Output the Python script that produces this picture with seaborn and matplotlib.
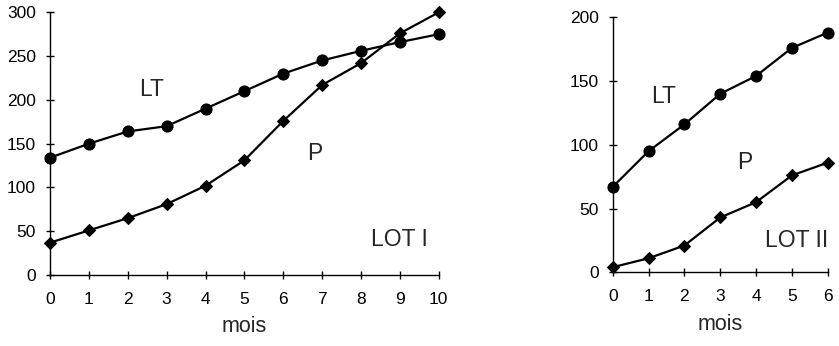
import numpy as np
import pandas as pd
import matplotlib
matplotlib.use("Agg")
import matplotlib.pyplot as plt
import seaborn as sns

# lot I
mois_1 = list(range(11))
lt_1 = [134, 150, 164, 170, 190, 210, 230, 245, 256, 266, 275]
p_1 = [37, 51, 65, 81, 102, 131, 176, 217, 242, 276, 300]

# lot II
mois_2 = list(range(7))
lt_2 = [67, 95, 116, 140, 154, 176, 188]
p_2 = [4, 11, 21, 43, 55, 76, 86]

sns.set_style("ticks")
plt.rcParams['font.family'] = ['Liberation Sans', 'DejaVu Sans']

fig = plt.figure(figsize=(8.39, 3.46), dpi=100)
ax1 = fig.add_axes([0.0596, 0.205, 0.4634, 0.7594])
ax2 = fig.add_axes([0.7303, 0.213, 0.2563, 0.737])

df1 = pd.DataFrame({'mois': mois_1, 'LT': lt_1, 'P': p_1})
df2 = pd.DataFrame({'mois': mois_2, 'LT': lt_2, 'P': p_2})

for ax, df in [(ax1, df1), (ax2, df2)]:
    sns.lineplot(data=df, x='mois', y='LT', ax=ax, color='black', lw=1.6,
                 marker='o', markersize=8, markeredgecolor='black', clip_on=False)
    sns.lineplot(data=df, x='mois', y='P', ax=ax, color='black', lw=1.6,
                 marker='D', markersize=6.5, markeredgecolor='black', clip_on=False)
    sns.despine(ax=ax)
    for s in ['left', 'bottom']:
        ax.spines[s].set_linewidth(1.0)
        ax.spines[s].set_color('black')
    ax.tick_params(direction='inout', length=6, width=1.0, colors='black',
                   labelsize=12.5)
    ax.tick_params(axis='y', pad=7)
    ax.tick_params(axis='x', pad=9)
    ax.set_xlabel('mois', fontsize=15.5, labelpad=7)
    ax.set_ylabel('')

ax1.set_xlim(0, 10)
ax1.set_ylim(0, 300)
ax1.set_xticks(mois_1)
ax1.set_yticks(range(0, 301, 50))
ax1.text(2.6, 212, 'LT', fontsize=16.5, ha='center', va='center')
ax1.text(6.8, 139, 'P', fontsize=16.5, ha='center', va='center')
ax1.text(9.0, 41, 'LOT I', fontsize=16.5, ha='center', va='center')

ax2.set_xlim(0, 6)
ax2.set_ylim(0, 200)
ax2.set_xticks(mois_2)
ax2.set_yticks(range(0, 201, 50))
ax2.text(1.41, 138, 'LT', fontsize=16.5, ha='center', va='center')
ax2.text(3.67, 86, 'P', fontsize=16.5, ha='center', va='center')
ax2.text(5.13, 25, 'LOT II', fontsize=16.5, ha='center', va='center')

fig.savefig('out.png', dpi=100)
